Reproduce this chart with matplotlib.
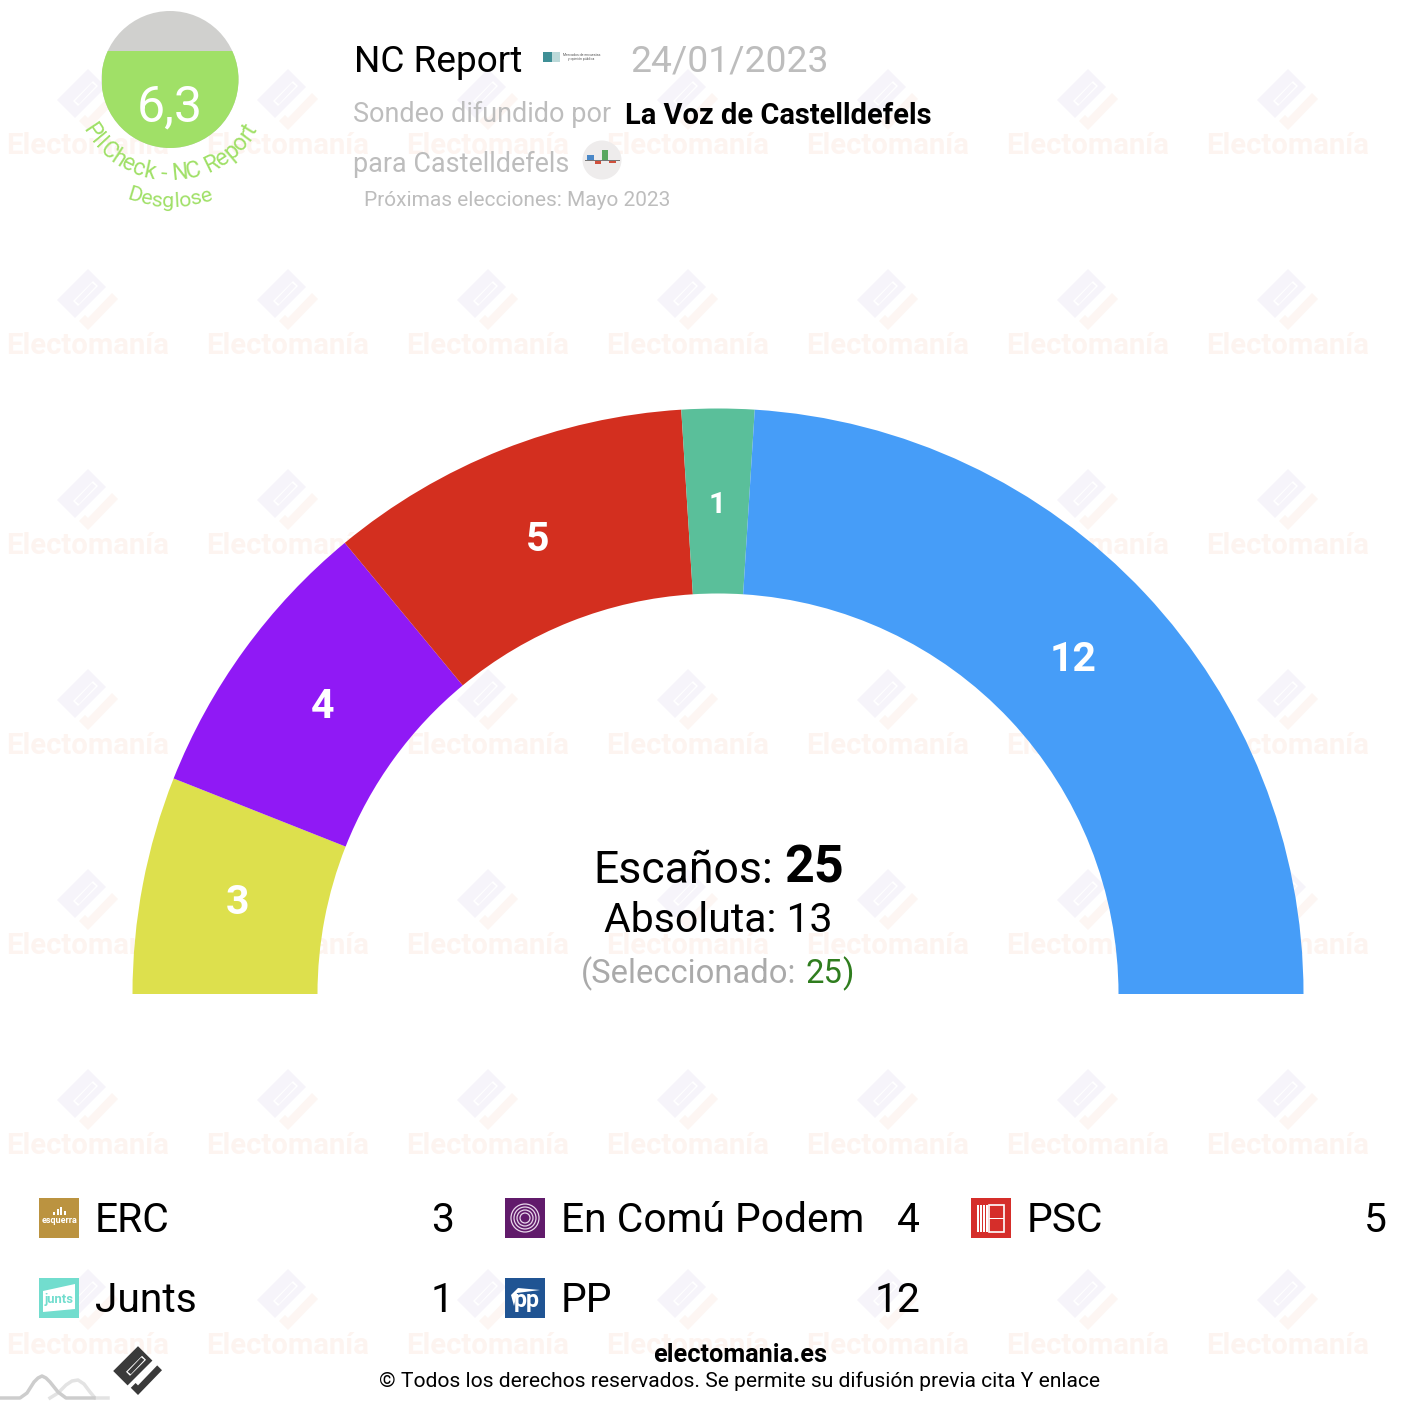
import matplotlib
matplotlib.use("Agg")
import matplotlib.pyplot as plt
from matplotlib.patches import Circle, Rectangle, Polygon
from matplotlib.textpath import TextPath
from matplotlib.font_manager import FontProperties
import numpy as np

W, H = 1408, 1418

# ---- data ----
parties = ["ERC", "En Comú Podem", "PSC", "Junts", "PP"]
seats = [3, 4, 5, 1, 12]
arc_colors = ["#dde04d", "#9019f5", "#d32f1f", "#5abf9a", "#469df8"]
legend_colors = ["#bb9340", "#611b6b", "#d52e2a", "#72ddce", "#205493"]
total_seats = 25
majority = 13
selected = 25
score_label = "6,3"
score_fraction = 0.71
mount_a_x = [0, 20, 27, 34, 38, 42, 46, 50, 58, 66, 94]
mount_a_y = [0, 0, 5, 16, 20, 22, 20, 16, 6, 0, 0]
mount_b_x = [50, 58, 66, 72, 78, 84, 90, 95, 108]
mount_b_y = [0, 5, 13, 17, 18, 14, 6, 0, 0]

plt.rcParams["font.family"] = ["Roboto", "DejaVu Sans"]
fig = plt.figure(figsize=(W / 100, H / 100), dpi=100, facecolor="white")
ax = fig.add_axes([0, 0, 1, 1])
ax.set_xlim(0, W)
ax.set_ylim(0, H)
ax.axis("off")


def Y(y):
    return H - y


def px(p):
    return p * 0.72


def T(x, y, s, size, color="black", ha="left", weight="normal", va="baseline", z=5, **kw):
    return ax.text(x, Y(y), s, fontsize=px(size), color=color, ha=ha, va=va,
                   fontweight=weight, zorder=z, **kw)


# ---- watermark ----
MAIN = [(0, -31), (18, -13), (-13, 18), (-31, 0)]
SLOT_OUT = [(5, -19), (10, -14), (-10, 6), (-15, 1)]
SLOT_IN = [(4, -17), (8, -14), (-9, 4), (-13, 1)]
CHECK = [(24, -7), (30, -1), (0, 30), (-9, 21), (-3, 15), (0, 18)]


def logo(cx, cy, s, c1, c2, z):
    def tr(pts):
        return [(cx + s * a, Y(cy + s * b)) for a, b in pts]
    ax.add_patch(Polygon(tr(MAIN), fc=c1, ec="none", zorder=z))
    ax.add_patch(Polygon(tr(SLOT_OUT), fc="white", ec="none", zorder=z))
    ax.add_patch(Polygon(tr(SLOT_IN), fc=c1, ec="none", zorder=z))
    ax.add_patch(Polygon(tr(CHECK), fc=c2, ec="none", zorder=z))


for gy in range(144, 1400, 200):
    for gx in range(88, 1400, 200):
        logo(gx, gy - 44, 1.0, "#f6f4fa", "#fdf6f3", 0)
        T(gx, gy + 10, "Electomanía", 29.3, color="#fdf4f0", ha="center", weight="bold", z=0)

# ---- hemicycle ----
ax.pie(seats + [total_seats], colors=arc_colors + ["none"], startangle=180,
       counterclock=False, center=(718, Y(994)), radius=585.5, frame=True,
       wedgeprops=dict(width=185, linewidth=0))
ax.set_xlim(0, W)
ax.set_ylim(0, H)
ax.set_aspect("auto")
ax.axis("off")
cum = 0
for n in seats:
    mid = np.pi * (cum + n / 2) / total_seats
    cum += n
    T(717 - 488 * np.cos(mid), 990 - 488 * np.sin(mid), str(n), 30 if n == 1 else 41,
      color="white", ha="center", va="center_baseline", weight="bold")

# centre text
T(773, 883, "Escaños:", 44.5, ha="right")
T(784, 882.5, str(total_seats), 52, weight="bold")
T(718, 932.5, f"Absoluta: {majority}", 41, ha="center")
T(796, 983, "(Seleccionado:", 32.8, color="#aaaaaa", ha="right")
T(805.5, 983, f"{selected}", 32.8, color="#2f7d1e")
T(842, 983, ")", 32.8, color="#2f7d1e")

# ---- gauge ----
gc = (170, 79.5)
gr = 68.5
c = Circle((gc[0], Y(gc[1])), gr, fc="#d0d0ce", ec="none", zorder=2)
ax.add_patch(c)
fill = Rectangle((gc[0] - gr, Y(gc[1] + gr)), 2 * gr, 2 * gr * score_fraction,
                 fc="#a0e067", ec="none", zorder=3)
ax.add_patch(fill)
fill.set_clip_path(c)
T(170, 121, score_label, 50, color="white", ha="center", z=6)


def curved(s, r, size, color, cy=gc[1]):
    fp = FontProperties(family="Roboto", size=px(size))
    bar = TextPath((0, 0), "|", prop=fp).get_extents().x1
    w = [(TextPath((0, 0), s[:i + 1] + "|", prop=fp).get_extents().x1 - bar) * 100 / 72
         for i in range(len(s))]
    total = w[-1]
    prev = 0
    for ch, e in zip(s, w):
        a0 = (prev - total / 2) / r
        am = ((prev + e) / 2 - total / 2) / r
        prev = e
        if ch == " ":
            continue
        x = gc[0] + r * np.sin(a0)
        y = cy + r * np.cos(a0)
        ax.text(x, Y(y), ch, fontsize=px(size), color=color, ha="left", va="baseline",
                rotation=np.degrees(am), rotation_mode="anchor", zorder=7)


curved("PIICheck - NC Report", 101, 23, "#a0e067")
curved("Desglose", 127, 21.5, "#a0e067", cy=80)

# ---- header ----
T(354, 72, "NC Report", 37)
ax.add_patch(Rectangle((543, Y(62)), 9, 10, fc="#3f8f96", ec="none", zorder=4))
ax.add_patch(Rectangle((552, Y(62)), 8, 10, fc="#bcd9d9", ec="none", zorder=4))
T(581.5, 56.5, "Mercados de encuestas", 3.5, color="#555555", ha="center")
T(581.5, 60, "y opinión pública", 3.5, color="#555555", ha="center")
T(630.5, 72, "24/01/2023", 37.2, color="#bdbdbd")
T(353, 122.5, "Sondeo difundido por", 27, color="#bdbdbd")
T(625, 124.5, "La Voz de Castelldefels", 29, weight="bold")
T(353, 172.5, "para Castelldefels", 27, color="#bdbdbd")
ax.add_patch(Circle((602, Y(160)), 19.5, fc="#eeecec", ec="none", zorder=4))
ax.add_patch(Rectangle((587, Y(160)), 7, 5, fc="#4a88c8", ec="none", zorder=5))
ax.add_patch(Rectangle((595, Y(164)), 6, 4, fc="#d0503c", ec="none", zorder=5))
ax.add_patch(Rectangle((602, Y(160)), 6, 10, fc="#5aa860", ec="none", zorder=5))
ax.add_patch(Rectangle((609, Y(163)), 7, 3, fc="#d0503c", ec="none", zorder=5))
ax.add_patch(Rectangle((585, Y(160.5)), 35, 1, fc="#777777", ec="none", zorder=5))
T(364, 206, "Próximas elecciones: Mayo 2023", 20.9, color="#bdbdbd")

# ---- legend ----
for i, (p, n, col) in enumerate(zip(parties, seats, legend_colors)):
    r, cl = divmod(i, 3)
    x0 = 39 + 466 * cl
    yc = 1218 + 80 * r
    ax.add_patch(Rectangle((x0, Y(yc + 20)), 40, 40, fc=col, ec="none", zorder=3))
    T(x0 + 56, yc + 14, p, 40.8)
    T(x0 + (415 if cl < 2 else 415.5), yc + 14, str(n), 40.8, ha="right")
    xc = x0 + 20
    if p == "ERC":
        T(xc, yc + 5, "esquerra", 9, color="white", ha="center", weight="bold")
        for dx, h in zip([-6, -2.5, 1, 4.5], [3, 6, 8, 4]):
            ax.add_patch(Rectangle((xc + dx, Y(yc - 3)), 2, h, fc="white", ec="none", zorder=4))
    elif p == "En Comú Podem":
        for rr in [14, 11, 8, 5]:
            ax.add_patch(Circle((xc, Y(yc)), rr, fc="none", ec="#e9d8ec", lw=0.9, zorder=4))
    elif p == "PSC":
        for dx in [-14, -11, -8, -5]:
            ax.add_patch(Rectangle((xc + dx, Y(yc + 14)), 1.6, 27, fc="white", ec="none", zorder=4))
        ax.add_patch(Rectangle((xc - 2, Y(yc + 14)), 15, 27, fc="none", ec="white", lw=1.2, zorder=4))
        ax.add_patch(Rectangle((xc - 2, Y(yc + 1)), 15, 1, fc="white", ec="none", zorder=4))
    elif p == "Junts":
        ax.add_patch(Polygon([(xc - 16, Y(yc - 7)), (xc + 16, Y(yc - 14)), (xc + 16, Y(yc + 11)),
                              (xc - 16, Y(yc + 14))], fc="white", ec="none", zorder=4))
        T(xc, yc + 5, "junts", 13, color="#72ddce", ha="center", weight="bold")
    elif p == "PP":
        T(xc + 2, yc + 9, "pp", 23, color="white", ha="center", weight="bold")
        ax.add_patch(Polygon([(xc - 14, Y(yc - 3)), (xc - 7, Y(yc - 10)), (xc + 15, Y(yc - 8)),
                              (xc - 8, Y(yc - 5)), (xc - 11, Y(yc + 8))], fc="white", ec="none", zorder=4))

# ---- footer ----
T(740, 1361.5, "electomania.es", 25.2, weight="bold", ha="center")
T(739.5, 1387, "© Todos los derechos reservados. Se permite su difusión previa cita Y enlace",
  21.05, ha="center")
logo(138, 1371, 0.8, "#3a3a3a", "#3a3a3a", 5)
ax.plot(mount_b_x, [H - 1398 + v for v in mount_b_y], color="#e3e3e3", lw=2.5, zorder=4)
ax.plot(mount_a_x, [H - 1398 + v for v in mount_a_y], color="#cdcdcd", lw=2.5, zorder=5)

fig.savefig("out.png", dpi=100, facecolor="white")
